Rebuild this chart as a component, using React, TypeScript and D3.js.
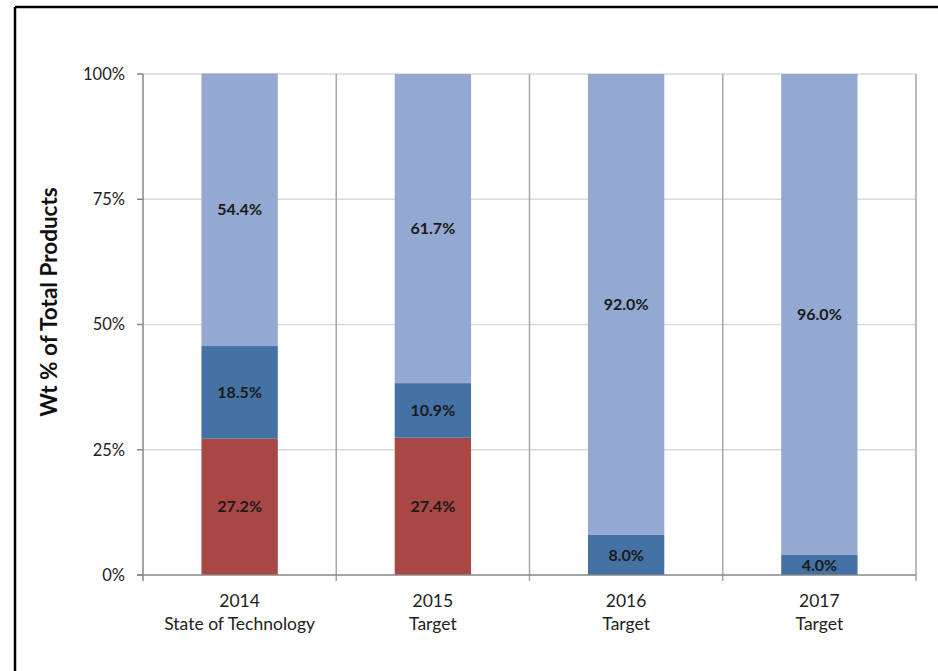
import React from "react";
import * as d3 from "d3";

const categories = ["2014", "2015", "2016", "2017"];
const subLabels = ["State of Technology", "Target", "Target", "Target"];
const seriesRed = [27.2, 27.4, 0, 0];
const seriesBlue = [18.5, 10.9, 8.0, 4.0];
const seriesLight = [54.4, 61.7, 92.0, 96.0];
const yTicks = [0, 25, 50, 75, 100];

const colors = ["#A84744", "#4472A5", "#94A9D1"];

const W = 938, H = 671;
const left = 143, right = 916, top = 74, bottom = 575;

export default function App() {
  const x = d3.scaleBand().domain(categories).range([left, right]).paddingInner(0).paddingOuter(0);
  const y = d3.scaleLinear().domain([0, 100]).range([bottom, top]);
  const bw = x.bandwidth() * 0.395;
  const series = [seriesRed, seriesBlue, seriesLight];
  const stackData = categories.map((c, i) => ({ c, r: seriesRed[i], b: seriesBlue[i], l: seriesLight[i] }));
  const stacked = d3.stack<any>().keys(["r", "b", "l"])(stackData);
  const font = "Lato, 'Open Sans', sans-serif";
  const boundaries = d3.range(categories.length + 1).map((i) => left + i * x.step());
  return (
    <svg width={W} height={H} style={{ position: "absolute", left: 0, top: 0, background: "#fff" }}>
      <rect x={0} y={0} width={W} height={H} fill="#fff" />
      <line x1={15} y1={7} x2={W} y2={7} stroke="#000" strokeWidth={2.5} />
      <line x1={15} y1={7} x2={15} y2={H} stroke="#000" strokeWidth={2.5} />
      {yTicks.filter((t) => t > 0).map((t) => (
        <line key={t} x1={left} x2={right} y1={y(t)} y2={y(t)} stroke="#d9d9d9" strokeWidth={1.5} />
      ))}
      {boundaries.slice(1).map((bx, i) => (
        <line key={i} x1={bx} x2={bx} y1={top} y2={bottom + 6} stroke="#a6a6a6" strokeWidth={1.5} />
      ))}
      {stacked.map((s, si) =>
        s.map((d, i) => {
          const h = y(d[0]) - y(d[1]);
          if (h <= 0) return null;
          const cx = (x(categories[i]) as number) + x.bandwidth() / 2;
          return (
            <g key={si + "-" + i}>
              <rect x={cx - bw / 2} y={y(d[1])} width={bw} height={h} fill={colors[si]} />
              <text
                x={cx}
                y={(y(d[0]) + y(d[1])) / 2}
                dy="0.35em"
                textAnchor="middle"
                fontFamily={font}
                fontWeight="bold"
                fontSize={16}
                fill="#1a1a1a"
              >
                {series[si][i].toFixed(1)}%
              </text>
            </g>
          );
        })
      )}
      <line x1={left} x2={left} y1={top} y2={bottom + 6} stroke="#868686" strokeWidth={1.5} />
      <line x1={left - 6} x2={right} y1={bottom} y2={bottom} stroke="#868686" strokeWidth={1.5} />
      {yTicks.map((t) => (
        <g key={t}>
          <line x1={left - 6} x2={left} y1={y(t)} y2={y(t)} stroke="#868686" strokeWidth={1.5} />
          <text x={125} y={y(t)} dy="0.35em" textAnchor="end" fontFamily={font} fontSize={16.5} fill="#222">
            {t}%
          </text>
        </g>
      ))}
      {categories.map((c, i) => {
        const cx = (x(c) as number) + x.bandwidth() / 2;
        return (
          <text key={c} x={cx} textAnchor="middle" fontFamily={font} fontSize={17.5} fill="#222">
            <tspan x={cx} y={607}>{c}</tspan>
            <tspan x={cx} y={630}>{subLabels[i]}</tspan>
          </text>
        );
      })}
      <text
        transform={`translate(57,302) rotate(-90)`}
        textAnchor="middle"
        fontFamily={font}
        fontWeight="bold"
        fontSize={22.5}
        fill="#111"
      >
        Wt % of Total Products
      </text>
    </svg>
  );
}
